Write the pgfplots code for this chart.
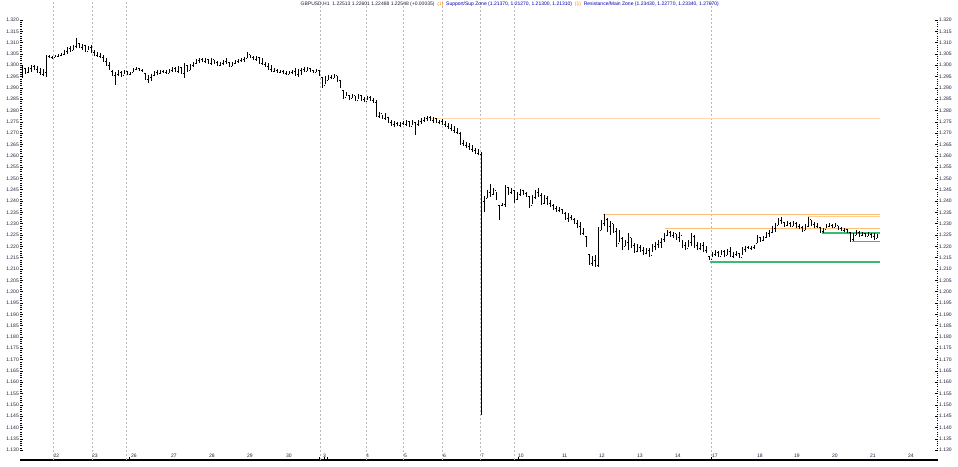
\documentclass[border=0pt]{standalone}
\usepackage{fontspec}
\setmainfont{Liberation Sans}
\usepackage{pgfplots}
\usepackage{pgfplotstable}
\pgfplotsset{compat=1.18}
\pgfdeclareplotmark{otick}{\pgfpathmoveto{\pgfqpoint{-1.2pt}{0pt}}\pgfpathlineto{\pgfqpoint{0pt}{0pt}}\pgfusepathqstroke}
\pgfdeclareplotmark{ctick}{\pgfpathmoveto{\pgfqpoint{0pt}{0pt}}\pgfpathlineto{\pgfqpoint{1.2pt}{0pt}}\pgfusepathqstroke}
\definecolor{gridc}{RGB}{185,185,185}
\definecolor{peach}{RGB}{255,218,180}
\definecolor{orng}{RGB}{255,190,120}
\definecolor{lorng}{RGB}{255,205,150}
\definecolor{supgreen}{RGB}{60,185,115}
\definecolor{lab}{RGB}{30,30,60}

\pgfplotstableread{
x h l o c
22 1.2997 1.2944 1.2950 1.2990
25 1.2988 1.2961 1.2985 1.2966
28 1.2992 1.2966 1.2968 1.2988
31 1.3001 1.2970 1.2985 1.2995
34 1.3001 1.2979 1.2995 1.2983
37 1.2997 1.2966 1.2983 1.2970
40 1.2988 1.2957 1.2970 1.2962
43 1.2984 1.2953 1.2962 1.2975
46 1.3045 1.2948 1.2970 1.3040
49 1.3045 1.3032 1.3040 1.3035
52 1.3041 1.3028 1.3035 1.3037
55 1.3045 1.3037 1.3037 1.3041
58 1.3050 1.3037 1.3041 1.3045
61 1.3054 1.3041 1.3045 1.3050
64 1.3068 1.3045 1.3050 1.3063
67 1.3081 1.3050 1.3063 1.3076
70 1.3085 1.3059 1.3076 1.3068
73 1.3090 1.3068 1.3068 1.3085
76 1.3120 1.3076 1.3085 1.3098
79 1.3098 1.3076 1.3098 1.3081
82 1.3094 1.3068 1.3081 1.3090
85 1.3090 1.3059 1.3090 1.3063
88 1.3085 1.3068 1.3063 1.3081
91 1.3090 1.3054 1.3081 1.3059
94 1.3068 1.3041 1.3059 1.3045
97 1.3059 1.3037 1.3045 1.3041
100 1.3054 1.3032 1.3041 1.3037
103 1.3045 1.3014 1.3037 1.3019
106 1.3032 1.2997 1.3019 1.3001
109 1.3014 1.2979 1.3001 1.2984
112 1.2979 1.2953 1.2975 1.2957
115 1.2970 1.2913 1.2957 1.2961
118 1.2979 1.2953 1.2961 1.2970
121 1.2975 1.2948 1.2970 1.2957
124 1.2979 1.2961 1.2957 1.2975
127 1.2975 1.2957 1.2975 1.2961
130 1.2970 1.2957 1.2961 1.2966
133 1.2988 1.2970 1.2970 1.2984
136 1.2992 1.2979 1.2984 1.2988
139 1.2988 1.2975 1.2988 1.2979
142 1.2984 1.2970 1.2979 1.2975
145 1.2966 1.2935 1.2966 1.2939
148 1.2957 1.2922 1.2939 1.2948
151 1.2961 1.2930 1.2948 1.2957
154 1.2975 1.2953 1.2957 1.2970
157 1.2979 1.2957 1.2970 1.2966
160 1.2979 1.2961 1.2966 1.2975
163 1.2979 1.2966 1.2975 1.2970
166 1.2979 1.2961 1.2970 1.2966
169 1.2984 1.2966 1.2966 1.2979
172 1.2992 1.2970 1.2979 1.2988
175 1.2992 1.2970 1.2988 1.2975
178 1.2997 1.2966 1.2975 1.2992
181 1.2992 1.2961 1.2992 1.2966
184 1.3010 1.2944 1.2966 1.3001
187 1.3001 1.2970 1.3001 1.2979
190 1.3006 1.2979 1.2979 1.3001
193 1.3014 1.2992 1.3001 1.3010
196 1.3028 1.3006 1.3010 1.3023
199 1.3032 1.3010 1.3023 1.3028
202 1.3032 1.3014 1.3028 1.3019
205 1.3032 1.3010 1.3019 1.3028
208 1.3028 1.3006 1.3028 1.3010
211 1.3032 1.3001 1.3010 1.3028
214 1.3023 1.3006 1.3028 1.3014
217 1.3019 1.2997 1.3014 1.3001
220 1.3014 1.2997 1.3001 1.3010
223 1.3023 1.3001 1.3010 1.3019
226 1.3032 1.3006 1.3019 1.3028
229 1.3014 1.2992 1.3014 1.2997
232 1.3014 1.2997 1.2997 1.3010
235 1.3023 1.3006 1.3010 1.3019
238 1.3028 1.3010 1.3019 1.3023
241 1.3032 1.3014 1.3023 1.3028
244 1.3037 1.3014 1.3028 1.3032
247 1.3059 1.3032 1.3032 1.3050
250 1.3045 1.3032 1.3050 1.3037
253 1.3041 1.3023 1.3037 1.3028
256 1.3041 1.3019 1.3028 1.3037
259 1.3037 1.3006 1.3037 1.3010
262 1.3032 1.3001 1.3010 1.3006
265 1.3014 1.2992 1.3006 1.2997
268 1.3010 1.2979 1.2997 1.2984
271 1.3001 1.2970 1.2984 1.2975
274 1.2988 1.2970 1.2975 1.2979
277 1.2984 1.2966 1.2979 1.2970
280 1.2979 1.2966 1.2970 1.2975
283 1.2979 1.2961 1.2975 1.2966
286 1.2975 1.2957 1.2966 1.2961
289 1.2975 1.2961 1.2961 1.2970
292 1.2979 1.2961 1.2970 1.2975
295 1.2988 1.2953 1.2975 1.2961
298 1.2984 1.2948 1.2961 1.2979
301 1.2988 1.2957 1.2979 1.2984
304 1.2992 1.2970 1.2984 1.2975
307 1.2992 1.2975 1.2975 1.2988
310 1.2988 1.2970 1.2988 1.2979
313 1.2979 1.2966 1.2979 1.2970
316 1.2984 1.2970 1.2970 1.2979
319 1.2979 1.2953 1.2979 1.2957
322 1.2948 1.2900 1.2948 1.2913
325 1.2953 1.2917 1.2913 1.2935
328 1.2957 1.2935 1.2935 1.2948
331 1.2957 1.2939 1.2948 1.2944
334 1.2961 1.2944 1.2944 1.2957
337 1.2953 1.2926 1.2957 1.2935
340 1.2935 1.2900 1.2935 1.2904
343 1.2891 1.2851 1.2891 1.2860
346 1.2882 1.2864 1.2860 1.2878
349 1.2869 1.2847 1.2869 1.2856
352 1.2873 1.2856 1.2856 1.2869
355 1.2864 1.2842 1.2869 1.2847
358 1.2873 1.2851 1.2847 1.2869
361 1.2869 1.2842 1.2869 1.2851
364 1.2860 1.2838 1.2851 1.2842
367 1.2864 1.2847 1.2842 1.2860
370 1.2864 1.2842 1.2860 1.2847
373 1.2856 1.2834 1.2847 1.2838
376 1.2847 1.2772 1.2838 1.2776
379 1.2794 1.2767 1.2776 1.2790
382 1.2781 1.2763 1.2790 1.2767
385 1.2790 1.2758 1.2767 1.2781
388 1.2772 1.2745 1.2772 1.2750
391 1.2758 1.2732 1.2750 1.2741
394 1.2754 1.2727 1.2741 1.2745
397 1.2750 1.2732 1.2745 1.2736
400 1.2750 1.2727 1.2736 1.2745
403 1.2754 1.2736 1.2745 1.2741
406 1.2758 1.2732 1.2741 1.2754
409 1.2754 1.2727 1.2754 1.2732
412 1.2758 1.2736 1.2732 1.2750
415 1.2750 1.2692 1.2750 1.2741
418 1.2758 1.2732 1.2741 1.2754
421 1.2767 1.2741 1.2754 1.2758
424 1.2772 1.2750 1.2758 1.2767
427 1.2776 1.2754 1.2767 1.2772
430 1.2776 1.2754 1.2772 1.2758
433 1.2772 1.2745 1.2758 1.2767
436 1.2767 1.2745 1.2767 1.2750
439 1.2758 1.2741 1.2750 1.2754
442 1.2763 1.2736 1.2754 1.2741
445 1.2754 1.2727 1.2741 1.2732
448 1.2745 1.2719 1.2732 1.2723
451 1.2741 1.2710 1.2723 1.2714
454 1.2732 1.2701 1.2714 1.2706
457 1.2723 1.2697 1.2706 1.2701
460 1.2706 1.2648 1.2701 1.2657
463 1.2670 1.2644 1.2657 1.2648
466 1.2661 1.2635 1.2648 1.2644
469 1.2657 1.2626 1.2644 1.2630
472 1.2648 1.2617 1.2630 1.2626
475 1.2635 1.2608 1.2626 1.2613
478 1.2630 1.2604 1.2613 1.2608
481 1.2617 1.1455 1.2608 1.2400
484 1.2423 1.2352 1.2400 1.2414
487 1.2449 1.2414 1.2414 1.2441
490 1.2476 1.2418 1.2441 1.2432
493 1.2458 1.2427 1.2432 1.2449
496 1.2441 1.2405 1.2449 1.2409
499 1.2383 1.2317 1.2383 1.2330
502 1.2392 1.2378 1.2383 1.2387
505 1.2471 1.2374 1.2387 1.2462
508 1.2462 1.2427 1.2462 1.2441
511 1.2458 1.2432 1.2441 1.2449
514 1.2449 1.2392 1.2449 1.2409
517 1.2441 1.2405 1.2409 1.2432
520 1.2454 1.2423 1.2432 1.2449
523 1.2449 1.2427 1.2449 1.2436
526 1.2441 1.2418 1.2436 1.2423
529 1.2423 1.2370 1.2423 1.2383
532 1.2427 1.2387 1.2383 1.2418
535 1.2449 1.2409 1.2418 1.2441
538 1.2458 1.2418 1.2441 1.2427
541 1.2436 1.2383 1.2427 1.2392
544 1.2427 1.2387 1.2392 1.2414
547 1.2423 1.2383 1.2414 1.2392
550 1.2405 1.2374 1.2392 1.2383
553 1.2387 1.2361 1.2383 1.2370
556 1.2378 1.2352 1.2370 1.2361
559 1.2374 1.2352 1.2361 1.2365
562 1.2365 1.2343 1.2365 1.2348
565 1.2352 1.2317 1.2348 1.2325
568 1.2348 1.2308 1.2325 1.2330
571 1.2339 1.2317 1.2330 1.2321
574 1.2325 1.2299 1.2321 1.2303
577 1.2317 1.2281 1.2303 1.2290
580 1.2308 1.2250 1.2290 1.2259
583 1.2281 1.2250 1.2259 1.2268
586 1.2246 1.2197 1.2246 1.2206
589 1.2166 1.2118 1.2166 1.2127
592 1.2158 1.2113 1.2127 1.2140
595 1.2162 1.2109 1.2140 1.2118
598 1.2286 1.2109 1.2118 1.2272
601 1.2317 1.2272 1.2272 1.2303
604 1.2343 1.2290 1.2303 1.2321
607 1.2325 1.2264 1.2321 1.2290
610 1.2312 1.2250 1.2290 1.2303
613 1.2299 1.2259 1.2303 1.2268
616 1.2281 1.2197 1.2268 1.2215
619 1.2272 1.2219 1.2215 1.2237
622 1.2241 1.2184 1.2237 1.2202
625 1.2228 1.2202 1.2202 1.2219
628 1.2259 1.2184 1.2219 1.2241
631 1.2237 1.2193 1.2241 1.2206
634 1.2215 1.2171 1.2206 1.2180
637 1.2210 1.2175 1.2180 1.2197
640 1.2206 1.2175 1.2197 1.2184
643 1.2197 1.2162 1.2184 1.2171
646 1.2193 1.2166 1.2171 1.2184
649 1.2193 1.2153 1.2184 1.2162
652 1.2210 1.2175 1.2162 1.2202
655 1.2219 1.2184 1.2202 1.2210
658 1.2228 1.2193 1.2210 1.2219
661 1.2237 1.2193 1.2219 1.2232
664 1.2259 1.2219 1.2232 1.2250
667 1.2272 1.2246 1.2250 1.2264
670 1.2268 1.2241 1.2264 1.2250
673 1.2264 1.2237 1.2250 1.2259
676 1.2255 1.2228 1.2259 1.2241
679 1.2264 1.2219 1.2241 1.2250
682 1.2228 1.2193 1.2250 1.2206
685 1.2219 1.2184 1.2206 1.2193
688 1.2228 1.2197 1.2193 1.2219
691 1.2259 1.2202 1.2219 1.2246
694 1.2250 1.2193 1.2246 1.2206
697 1.2219 1.2184 1.2206 1.2193
700 1.2215 1.2184 1.2193 1.2206
703 1.2219 1.2175 1.2206 1.2184
706 1.2202 1.2171 1.2184 1.2180
709 1.2158 1.2140 1.2158 1.2145
712 1.2175 1.2153 1.2145 1.2166
715 1.2184 1.2158 1.2166 1.2175
718 1.2180 1.2153 1.2175 1.2158
721 1.2184 1.2162 1.2158 1.2180
724 1.2184 1.2153 1.2180 1.2162
727 1.2189 1.2162 1.2162 1.2180
730 1.2197 1.2153 1.2180 1.2158
733 1.2175 1.2149 1.2158 1.2166
736 1.2180 1.2158 1.2166 1.2171
739 1.2171 1.2149 1.2171 1.2153
742 1.2197 1.2162 1.2153 1.2189
745 1.2202 1.2175 1.2189 1.2197
748 1.2202 1.2189 1.2197 1.2193
751 1.2202 1.2184 1.2193 1.2197
754 1.2206 1.2189 1.2197 1.2202
757 1.2250 1.2215 1.2215 1.2241
760 1.2241 1.2219 1.2241 1.2228
763 1.2246 1.2224 1.2228 1.2241
766 1.2264 1.2237 1.2241 1.2259
769 1.2272 1.2241 1.2259 1.2264
772 1.2290 1.2259 1.2264 1.2281
775 1.2303 1.2264 1.2281 1.2295
778 1.2325 1.2295 1.2295 1.2317
781 1.2330 1.2299 1.2317 1.2308
784 1.2308 1.2286 1.2308 1.2295
787 1.2312 1.2290 1.2295 1.2303
790 1.2308 1.2286 1.2303 1.2290
793 1.2312 1.2290 1.2290 1.2303
796 1.2308 1.2281 1.2303 1.2290
799 1.2299 1.2277 1.2290 1.2286
802 1.2290 1.2264 1.2286 1.2272
805 1.2299 1.2272 1.2272 1.2290
808 1.2330 1.2286 1.2290 1.2321
811 1.2317 1.2290 1.2321 1.2299
814 1.2308 1.2281 1.2299 1.2290
817 1.2303 1.2281 1.2290 1.2286
820 1.2286 1.2259 1.2286 1.2268
823 1.2281 1.2259 1.2268 1.2277
826 1.2299 1.2281 1.2277 1.2290
829 1.2303 1.2286 1.2290 1.2295
832 1.2299 1.2281 1.2295 1.2286
835 1.2303 1.2286 1.2286 1.2295
838 1.2290 1.2272 1.2295 1.2281
841 1.2286 1.2268 1.2281 1.2272
844 1.2281 1.2264 1.2272 1.2277
847 1.2277 1.2259 1.2277 1.2264
850 1.2264 1.2219 1.2264 1.2232
853 1.2259 1.2224 1.2232 1.2250
856 1.2272 1.2250 1.2250 1.2264
859 1.2268 1.2241 1.2264 1.2250
862 1.2264 1.2246 1.2250 1.2259
865 1.2259 1.2241 1.2259 1.2246
868 1.2264 1.2246 1.2246 1.2255
871 1.2259 1.2237 1.2255 1.2246
874 1.2259 1.2228 1.2246 1.2237
877 1.2255 1.2237 1.2237 1.2250
}\ohlc

\pgfplotsset{
  base/.style={
    scale only axis, width=918pt, height=460pt,
    at={(0pt,0pt)}, anchor=south west,
    xmin=20, xmax=938, ymin=1.12565, ymax=1.32883,
    ytick={1.130,1.135,...,1.3201},
    minor y tick num=4,
    major tick length=3pt, minor tick length=1.5pt,
    every tick/.style={black, line width=0.6pt},
    yticklabel style={font=\fontsize{5}{6}\selectfont, text=lab, inner sep=1pt,
      /pgf/number format/.cd, fixed, fixed zerofill, precision=3, assume math mode=true},
    y axis line style={draw=none},
  }
}
\begin{document}
\begin{tikzpicture}
\path[use as bounding box] (-20pt,-6pt) rectangle (938pt,460pt);
\begin{axis}[base,
  axis x line*=bottom, axis y line*=left,
  x axis line style={line width=1.3pt},
  xtick={52.5,91,130,170,208,246,285,322,365,403,442,480,517,561,598,636,674,711,756,793,831,869,907},
  xticklabels={22,23,26,27,28,29,30,3,4,5,6,7,10,11,12,13,14,17,18,19,20,21,24},
  xticklabel style={font=\fontsize{5}{6}\selectfont, text=lab, anchor=south west, inner sep=0.8pt, yshift=1.5pt},
  xtick style={draw=none},
  extra x ticks={53,92,126,320,366,403,442,480,514,711},
  extra x tick labels={},
  extra x tick style={grid=major, major grid style={gridc, dash pattern=on 2pt off 2pt, line width=0.7pt}, tick style={draw=none}},
]
\addplot[draw=peach, line width=1pt, forget plot] coordinates {(430,1.2767) (880,1.2767)};
\addplot[draw=orng, line width=1pt, forget plot] coordinates {(603,1.2340) (880,1.2340)};
\addplot[draw=lorng, line width=0.9pt, forget plot] coordinates {(808,1.2333) (880,1.2333)};
\addplot[draw=orng, line width=1pt, forget plot] coordinates {(665,1.2280) (880,1.2280)};
\addplot[draw=supgreen, line width=1.5pt, forget plot] coordinates {(710,1.2132) (880,1.2132)};
\addplot[draw=supgreen, line width=1.1pt, forget plot] coordinates {(822,1.2259) (880,1.2259)};
\addplot[draw=supgreen, line width=1.1pt, forget plot] coordinates {(852,1.2223) (880,1.2223)};
\addplot[draw=none, mark=none, forget plot,
  error bars/.cd, y dir=plus, y explicit, error mark=none,
  error bar style={draw=black, line width=0.95pt}]
  table[x=x, y=l, y error expr=\thisrow{h}-\thisrow{l}] {\ohlc};
\addplot[only marks, mark=otick, black, mark options={line width=0.5pt}, forget plot] table[x=x, y=o] {\ohlc};
\addplot[only marks, mark=ctick, black, mark options={line width=0.5pt}, forget plot] table[x=x, y=c] {\ohlc};
\node[anchor=north west, font=\fontsize{5}{6}\selectfont, text=lab, inner sep=0.5pt] at (axis cs:320,1.12565) {October};
\node[anchor=north west, font=\fontsize{5}{6}\selectfont, inner sep=0.5pt] at (axis cs:300,1.3284)
  {\textcolor{lab}{GBPUSD,H1 \ 1.22513 1.22601 1.22488 1.22548 (+0.00035)} \ \textcolor{orange}{(1)} \ \textcolor{blue!70!black}{Support/Sup Zone (1.21370, 1.21270, 1.21300, 1.21310)} \ \textcolor{orange}{(1)} \ \textcolor{blue!70!black}{Resistance/Main Zone (1.23430, 1.22770, 1.23340, 1.27670)}};
\end{axis}
\begin{axis}[base,
  axis x line*=bottom, axis y line*=right,
  x axis line style={draw=none},
  xtick={129,319,324,327,518,711},
  xticklabels={},
  tick align=inside,
  xtick style={black, line width=0.8pt},
]
\addplot[draw=none, forget plot] coordinates {(20,1.2) (938,1.2)};
\end{axis}
\end{tikzpicture}
\end{document}
